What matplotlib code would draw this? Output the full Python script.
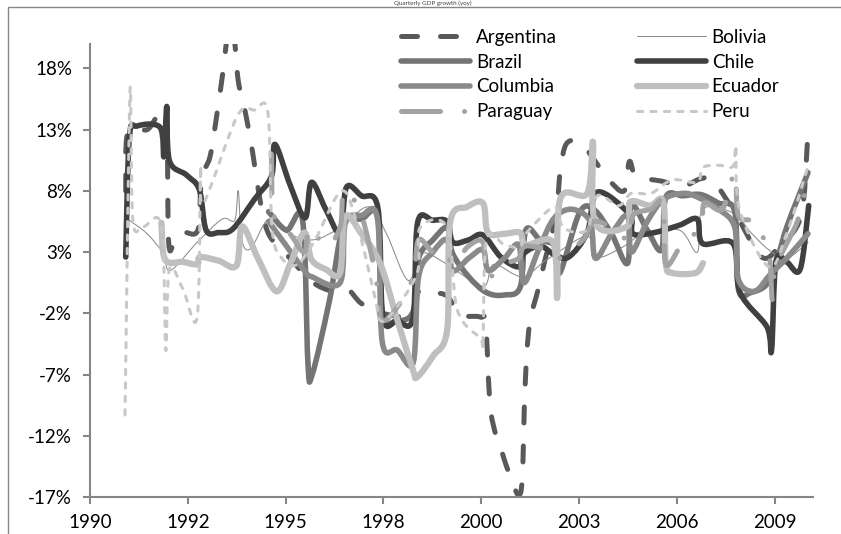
import numpy as np
import matplotlib
matplotlib.use('Agg')
import matplotlib.pyplot as plt
from matplotlib.path import Path
from matplotlib.patches import PathPatch, Rectangle
from matplotlib.lines import Line2D

plt.rcParams['font.family'] = ['Lato', 'DejaVu Sans']

# ---- data: (year, growth %) ----
argentina = [(1991.0, 8.0), (1991.06, 12.8), (1991.6, 13.0), (1991.9, 14.1), (1992.14, 13.5), (1992.2, 3.9),
             (1992.35, 3.7), (1992.6, 4.6), (1993.02, 4.8), (1993.12, 9.0), (1993.36, 10.8), (1993.56, 14.4),
             (1993.72, 17.7), (1993.88, 21.3), (1994.02, 21.0), (1994.15, 17.0), (1994.35, 14.4), (1994.55, 11.2),
             (1994.7, 8.3), (1994.88, 5.5), (1995.1, 4.0), (1995.6, 2.5), (1996.2, 0.6), (1996.8, -0.2),
             (1997.2, 0.0), (1997.6, -1.2), (1998.2, -2.0), (1999.0, -2.2), (1999.2, -0.2), (1999.6, -0.3),
             (2000.0, -0.6), (2000.36, -2.1), (2000.92, -2.3), (2001.08, -3.0), (2001.22, -10.0), (2001.55, -13.5),
             (2001.85, -16.0), (2002.0, -16.8), (2002.1, -15.5), (2002.18, -8.0), (2002.3, -3.0), (2002.55, 0.0),
             (2002.74, 2.4), (2003.05, 6.0), (2003.16, 9.5), (2003.35, 11.9), (2003.8, 11.7), (2004.5, 9.0),
             (2004.95, 8.0), (2005.1, 10.4), (2005.3, 9.2), (2006.0, 8.8), (2006.6, 8.4), (2007.1, 9.0),
             (2007.45, 8.8), (2008.1, 6.0), (2008.8, 2.6), (2009.3, 3.5), (2009.9, 5.9), (2010.08, 11.8)]

bolivia = [(1991.1, 5.6), (1991.6, 4.5), (1992.05, 2.9), (1992.25, 1.5), (1993.0, 3.8), (1993.7, 5.7),
           (1994.05, 5.6), (1994.15, 8.0), (1994.25, 4.0), (1994.5, 3.3), (1995.0, 5.7), (1995.5, 4.6),
           (1996.24, 4.0), (1997.0, 5.0), (1997.8, 6.7), (1998.3, 4.5), (1998.9, 0.7), (1999.3, 2.9),
           (2000.0, 2.0), (2001.0, 0.2), (2001.3, 2.0), (2002.1, 1.0), (2002.8, 2.4), (2003.9, 4.3),
           (2004.2, 2.6), (2004.9, 3.4), (2005.5, 4.5), (2006.5, 4.8), (2007.0, 3.0), (2007.15, 6.5),
           (2008.0, 6.2), (2008.5, 4.6), (2009.0, 3.2), (2009.5, 2.5), (2010.1, 3.8)]

brazil = [(1995.0, 6.3), (1995.5, 4.8), (1995.95, 5.6), (1996.1, -6.0), (1996.22, -7.0), (1996.7, -1.0),
          (1997.1, 5.2), (1997.6, 5.7), (1998.05, 5.9), (1998.18, -2.0), (1998.6, -2.6), (1999.05, -1.8),
          (1999.2, 2.5), (1999.6, 4.0), (2000.0, 5.0), (2000.15, 2.9), (2000.6, 1.0), (2001.1, -0.3),
          (2001.6, -0.5), (2002.05, 0.2), (2002.2, 4.8), (2002.6, 4.0), (2003.0, 3.5), (2003.15, 1.3),
          (2003.7, 6.2), (2004.1, 6.5), (2004.6, 4.5), (2005.05, 2.1), (2005.15, 6.8), (2005.6, 4.8),
          (2006.0, 3.2), (2006.12, 7.5), (2006.6, 7.6), (2007.1, 7.7), (2007.6, 7.0), (2008.05, 6.3),
          (2008.15, 0.0), (2008.5, -0.3), (2009.05, 0.8), (2009.5, 5.0), (2010.1, 9.5)]

chile = [(1991.0, 2.6), (1991.1, 12.3), (1991.32, 13.3), (1991.96, 13.2), (1992.07, 10.8), (1992.15, 14.9),
         (1992.22, 10.5), (1992.7, 9.3), (1993.06, 8.1), (1993.25, 4.8), (1993.6, 4.6), (1994.0, 4.9),
         (1994.6, 7.3), (1995.08, 9.2), (1995.18, 11.8), (1995.6, 8.5), (1996.02, 5.8), (1996.2, 8.7),
         (1996.6, 6.5), (1997.0, 4.6), (1997.18, 8.3), (1997.6, 7.6), (1998.06, 6.6), (1998.2, -2.3),
         (1998.6, -2.6), (1999.04, -2.4), (1999.17, 5.4), (1999.6, 5.6), (2000.0, 5.5), (2000.16, 3.8),
         (2000.6, 4.0), (2001.0, 4.4), (2001.5, 2.6), (2002.0, 1.8), (2002.15, 2.9), (2002.6, 3.5),
         (2003.0, 2.8), (2003.4, 2.6), (2003.92, 4.6), (2004.2, 7.9), (2005.1, 6.1), (2005.2, 4.5),
         (2005.8, 4.6), (2006.5, 5.2), (2007.0, 5.7), (2007.15, 3.7), (2008.0, 3.7), (2008.2, -0.3),
         (2008.95, -3.1), (2009.08, -5.0), (2009.2, 2.2), (2009.5, 2.2), (2009.88, 1.6), (2010.12, 6.8)]

columbia = [(1995.0, 5.5), (1995.5, 3.5), (1996.0, 1.5), (1996.2, 1.0), (1997.0, 0.5), (1997.15, 5.4),
            (1997.6, 6.0), (1998.05, 5.7), (1998.18, -4.3), (1998.6, -5.0), (1999.05, -6.0), (1999.2, 1.0),
            (1999.6, 3.0), (2000.0, 4.0), (2000.15, 1.5), (2000.6, 2.5), (2001.0, 3.2), (2001.15, 1.5),
            (2001.6, 2.5), (2002.0, 3.6), (2002.15, 0.5), (2002.6, 3.5), (2003.0, 5.8), (2003.5, 6.5),
            (2004.0, 5.5), (2004.15, 2.5), (2004.6, 4.5), (2005.05, 6.0), (2005.15, 3.0), (2005.6, 5.5),
            (2006.05, 7.3), (2006.6, 7.8), (2007.0, 7.5), (2007.6, 6.5), (2008.05, 5.0), (2008.15, 0.8),
            (2008.6, -0.2), (2009.05, 1.2), (2009.5, 2.5), (2010.1, 4.5)]

ecuador = [(1992.0, 5.4), (1992.1, 2.4), (1992.6, 2.2), (1993.0, 2.0), (1993.08, 2.6), (1993.6, 2.3),
           (1994.1, 1.9), (1994.26, 5.1), (1994.7, 2.5), (1995.22, -0.2), (1995.6, 2.0), (1996.0, 4.6),
           (1996.2, 2.4), (1996.6, 1.6), (1997.0, 1.3), (1997.14, 5.9), (1997.6, 4.5), (1998.12, 2.1),
           (1998.6, -2.5), (1999.04, -6.6), (1999.16, -7.2), (1999.6, -5.5), (2000.0, -3.3), (2000.08, 5.4),
           (2000.56, 6.7), (2001.0, 7.0), (2001.14, 4.6), (2001.6, 4.5), (2002.04, 4.6), (2002.2, 3.6),
           (2002.96, 3.8), (2003.08, -0.7), (2003.16, 7.3), (2003.92, 7.8), (2004.08, 12.0), (2004.14, 5.4),
           (2005.04, 5.1), (2005.12, 7.1), (2005.68, 6.8), (2006.05, 7.1), (2006.12, 2.1), (2006.3, 1.3),
           (2006.95, 1.3), (2007.16, 2.1)]

paraguay = [(1995.08, 11.0), (1995.15, 6.0), (1995.6, 4.5), (1996.0, 3.0), (1996.15, 5.0), (1996.6, 3.5),
            (1997.0, 5.0), (1997.12, 8.0), (1997.6, 6.0), (1998.0, 1.0), (1998.15, -2.5), (1998.6, -1.5),
            (1999.05, 1.0), (1999.2, 4.0), (1999.6, 3.0), (2000.0, 3.0), (2000.15, 2.0), (2000.6, 3.5),
            (2001.0, 3.8), (2001.12, 1.0), (2001.6, 2.0), (2002.0, 2.5), (2002.2, 3.5), (2003.0, 3.0),
            (2003.15, 2.5), (2003.8, 4.0), (2004.1, 5.5), (2004.6, 5.0), (2005.1, 4.0), (2005.2, 6.0),
            (2005.7, 6.5), (2006.05, 7.0), (2006.12, 2.0), (2006.6, 3.8), (2007.1, 5.0), (2007.2, 7.0),
            (2007.7, 6.5), (2008.05, 9.5), (2008.15, 6.0), (2008.6, 5.4), (2009.0, 2.9), (2009.1, -0.9),
            (2009.2, 1.8), (2009.8, 5.5), (2010.1, 9.0)]

peru = [(1990.98, -10.3), (1991.12, 16.1), (1991.2, 5.6), (1991.5, 5.1), (1992.0, 5.1), (1992.12, -5.0),
        (1992.22, 1.6), (1992.6, 0.0), (1993.0, -2.3), (1993.1, 9.7), (1993.18, 7.0), (1994.12, 14.1),
        (1994.6, 14.6), (1994.98, 14.4), (1995.1, 4.8), (1995.4, 2.4), (1995.8, 2.0), (1996.3, 4.0),
        (1997.05, 8.0), (1997.5, 5.0), (1998.0, -1.0), (1998.1, -2.5), (1998.4, -2.2), (1999.16, 1.3),
        (1999.24, 5.0), (2000.0, 5.0), (2000.28, -1.7), (2000.92, -4.0), (2001.0, -4.2), (2001.1, 4.0),
        (2001.6, 3.6), (2002.04, 3.4), (2002.2, 4.5), (2003.0, 6.7), (2003.25, 5.0), (2003.9, 4.8),
        (2004.2, 7.6), (2004.8, 6.8), (2005.15, 7.8), (2005.7, 7.8), (2006.3, 8.9), (2007.0, 8.7),
        (2007.15, 9.9), (2007.6, 10.1), (2008.0, 10.0), (2008.08, 11.6), (2008.18, 6.5), (2009.0, 1.8),
        (2009.5, 4.5), (2010.1, 10.0)]

series_names = ['Argentina', 'Bolivia', 'Brazil', 'Chile', 'Columbia', 'Ecuador', 'Paraguay', 'Peru']
series_data = [argentina, bolivia, brazil, chile, columbia, ecuador, paraguay, peru]

x_labels = ['1990', '1992', '1995', '1998', '2000', '2003', '2006', '2009']
y_ticks = [-17, -12, -7, -2, 3, 8, 13, 18]

# line styles (Excel-like greys)
styles = {
    'Argentina': dict(color='#595959', lw=3.6, ls=(0, (3.2, 4.6))),
    'Bolivia':   dict(color='#8c8c8c', lw=0.75, ls='-'),
    'Brazil':    dict(color='#747474', lw=4.0, ls='-'),
    'Chile':     dict(color='#404040', lw=4.0, ls='-'),
    'Columbia':  dict(color='#8a8a8a', lw=4.0, ls='-'),
    'Ecuador':   dict(color='#bfbfbf', lw=4.5, ls='-'),
    'Paraguay':  dict(color='#a3a3a3', lw=3.6, ls=(0, (7.8, 4.8, 0.01, 4.8))),
    'Peru':      dict(color='#c8c8c8', lw=2.2, ls=(0, (1.7, 2.7))),
}


def smooth_path(pts):
    # Excel-style smoothed line: Catmull-Rom segments as cubic Beziers
    p = np.array(pts, dtype=float)
    n = len(p)
    verts = [p[0]]
    codes = [Path.MOVETO]
    for i in range(n - 1):
        p0 = p[max(i - 1, 0)]
        p1 = p[i]
        p2 = p[i + 1]
        p3 = p[min(i + 2, n - 1)]
        verts += [p1 + (p2 - p0) / 6.0, p2 - (p3 - p1) / 6.0, p2]
        codes += [Path.CURVE4] * 3
    return Path(verts, codes)


fig = plt.figure(figsize=(8.41, 5.34), dpi=100)
ax = fig.add_axes([90 / 841, 1 - 497 / 534, (813 - 90) / 841, (497 - 44) / 534])

handles = {}
for name, pts in zip(series_names, series_data):
    st = styles[name]
    patch = PathPatch(smooth_path(pts), fill=False, edgecolor=st['color'], lw=st['lw'],
                      linestyle=st['ls'], capstyle='round', joinstyle='round')
    ax.add_patch(patch)
    handles[name] = Line2D([], [], color=st['color'], lw=st['lw'], linestyle=st['ls'],
                           dash_capstyle='round', solid_capstyle='round')

# x axis behaves like an Excel date axis: major unit 1000 days from 1 Jan 1990
step = 1000 / 365.25
ax.set_xlim(1990, 2010.24)
ax.set_xticks([1990 + k * step for k in range(len(x_labels))])
ax.set_xticklabels(x_labels)
ax.set_ylim(-17, 20)
ax.set_yticks(y_ticks)
ax.set_yticklabels([f'{v}%' for v in y_ticks])

for side in ['top', 'right']:
    ax.spines[side].set_visible(False)
for side in ['left', 'bottom']:
    ax.spines[side].set_color('#868686')
    ax.spines[side].set_linewidth(1.5)
ax.tick_params(axis='both', direction='out', length=5, width=1.5, color='#868686',
               labelsize=13.5, labelcolor='black')
ax.tick_params(axis='y', pad=8)
ax.tick_params(axis='x', pad=7)

order = ['Argentina', 'Brazil', 'Columbia', 'Paraguay', 'Bolivia', 'Chile', 'Ecuador', 'Peru']
ax.legend([handles[n] for n in order], order, ncol=2, frameon=False, fontsize=13.5,
          loc='upper left', bbox_to_anchor=(401 / 841, 1 - 29 / 534), bbox_transform=fig.transFigure,
          borderpad=0, borderaxespad=0, handlelength=3.7, handletextpad=0.3,
          columnspacing=4.25, labelspacing=0.41)

# chart area border (clipped by the image on the right and bottom)
fig.add_artist(Rectangle((8 / 841, -0.1), 2.0, 1.1 - 7 / 534, transform=fig.transFigure,
                         fill=False, edgecolor='#868686', lw=1.0))
fig.text(433 / 841, 1 - 0.5 / 534, 'Quarterly GDP growth (yoy)', ha='center', va='top',
         fontsize=4.5, color='#404040')

fig.savefig('out.png', dpi=100, facecolor='white')
